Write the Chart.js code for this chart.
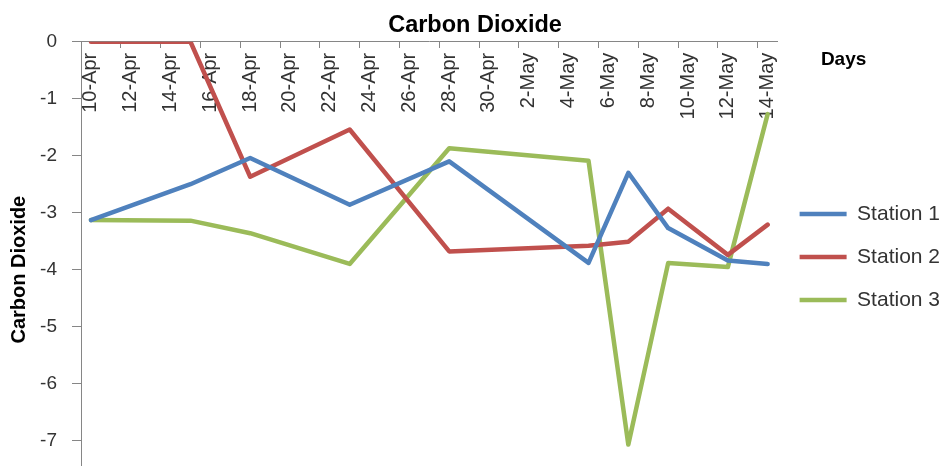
<!DOCTYPE html>
<html>
<head>
<meta charset="utf-8">
<script src="https://cdn.jsdelivr.net/npm/chart.js@4/dist/chart.umd.min.js"></script>
<style>
  html, body { margin: 0; padding: 0; background: #ffffff; overflow: hidden; }
  #wrap { width: 945px; height: 509px; }
</style>
</head>
<body>
<div id="wrap"><canvas id="c" width="945" height="509"></canvas></div>
<script>
// ---- data ----
const chartTitle = 'Carbon Dioxide';
const yAxisTitle = 'Carbon Dioxide';
const xAxisTitle = 'Days';
const seriesNames = ['Station 1', 'Station 2', 'Station 3'];
const dates = ['10-Apr', '15-Apr', '18-Apr', '23-Apr', '28-Apr', '5-May', '7-May', '9-May', '12-May', '14-May'];
const station1 = [-3.13, -2.50, -2.04, -2.86, -2.10, -3.88, -2.30, -3.27, -3.84, -3.90];
const station2 = [0, 0, -2.37, -1.54, -3.68, -3.58, -3.51, -2.93, -3.74, -3.21];
const station3 = [-3.13, -3.14, -3.36, -3.90, -1.87, -2.09, -7.07, -3.885, -3.955, -1.27];
const xTickLabels = ['10-Apr', '12-Apr', '14-Apr', '16-Apr', '18-Apr', '20-Apr', '22-Apr', '24-Apr', '26-Apr',
                     '28-Apr', '30-Apr', '2-May', '4-May', '6-May', '8-May', '10-May', '12-May', '14-May'];
const yMin = -8, yMax = 0;

// ---- helpers ----
const MONTHS = {Jan:0, Feb:1, Mar:2, Apr:3, May:4, Jun:5, Jul:6, Aug:7, Sep:8, Oct:9, Nov:10, Dec:11};
function toDay(label) {
  const [d, m] = label.split('-');
  return Date.UTC(2000, MONTHS[m], parseInt(d, 10)) / 86400000;
}
const day0 = toDay(xTickLabels[0]);
const dayOf = (label) => toDay(label) - day0;
const xs = dates.map(dayOf);
const toPoints = (vals) => vals.map((v, i) => ({x: xs[i], y: v}));
const lastDay = dayOf(xTickLabels[xTickLabels.length - 1]);

const FONT = '"Liberation Sans", Arial, sans-serif';
const colors = ['#4F81BD', '#C0504D', '#9BBB59'];
const axisGray = '#868686';
const textColor = '#333333';

const daysLabel = {
  id: 'daysLabel',
  afterDraw(chart) {
    const {ctx, chartArea} = chart;
    ctx.save();
    ctx.font = 'bold 19px ' + FONT;
    ctx.fillStyle = '#000000';
    ctx.textAlign = 'center';
    ctx.textBaseline = 'middle';
    ctx.fillText(xAxisTitle, chartArea.right + 66, chartArea.top + 18);
    ctx.restore();
  }
};

new Chart(document.getElementById('c'), {
  type: 'line',
  data: {
    datasets: [station1, station2, station3].map((vals, i) => ({
      label: seriesNames[i],
      data: toPoints(vals),
      borderColor: colors[i],
      backgroundColor: colors[i],
      borderWidth: 4.5,
      borderCapStyle: 'round',
      borderJoinStyle: 'round',
      pointRadius: 0,
      pointHoverRadius: 0,
      tension: 0,
      fill: false
    }))
  },
  options: {
    responsive: false,
    animation: false,
    events: [],
    layout: { padding: { top: 16.4, right: -5, bottom: 11.4, left: 0 } },
    plugins: {
      title: {
        display: true,
        text: chartTitle,
        color: '#000000',
        font: { family: FONT, size: 23.5, weight: 'bold', lineHeight: 0.75 },
        padding: { top: 0.1, bottom: 7.6 }
      },
      legend: {
        position: 'right',
        align: 'center',
        labels: {
          usePointStyle: true,
          pointStyle: 'line',
          pointStyleWidth: 47,
          padding: 22,
          color: textColor,
          font: { family: FONT, size: 21 }
        }
      },
      tooltip: { enabled: false }
    },
    scales: {
      x: {
        type: 'linear',
        position: { y: 0 },
        min: -0.5,
        max: lastDay + 0.5,
        afterBuildTicks: (axis) => {
          axis.ticks = xTickLabels.map((l) => ({ value: dayOf(l) - 0.5 }));
        },
        afterFit: (axis) => {
          axis.height = 0;
          axis.paddingLeft = 0;
          axis.paddingRight = 0;
          axis.paddingTop = 0;
          axis.paddingBottom = 0;
        },
        grid: { drawOnChartArea: false, drawTicks: true, tickLength: 6, color: axisGray },
        border: { display: true, color: axisGray, width: 1 },
        ticks: {
          autoSkip: false,
          minRotation: 90,
          maxRotation: 90,
          padding: 5,
          labelOffset: 9.9,
          color: textColor,
          font: { family: FONT, size: 20 },
          callback: (value, index) => xTickLabels[index]
        }
      },
      y: {
        type: 'linear',
        position: 'left',
        min: yMin,
        max: yMax,
        afterFit: (axis) => {
          axis.width = 81;
          axis.paddingTop = 0;
          axis.paddingBottom = 0;
        },
        grid: { drawOnChartArea: false, drawTicks: true, tickLength: 9, color: axisGray },
        border: { display: true, color: axisGray, width: 1 },
        ticks: {
          stepSize: 1,
          padding: 15,
          color: textColor,
          font: { family: FONT, size: 19 }
        },
        title: {
          display: true,
          text: yAxisTitle,
          color: '#000000',
          font: { family: FONT, size: 20, weight: 'bold' },
          padding: { top: 7, bottom: 9 }
        }
      }
    }
  },
  plugins: [daysLabel]
});
</script>
</body>
</html>
